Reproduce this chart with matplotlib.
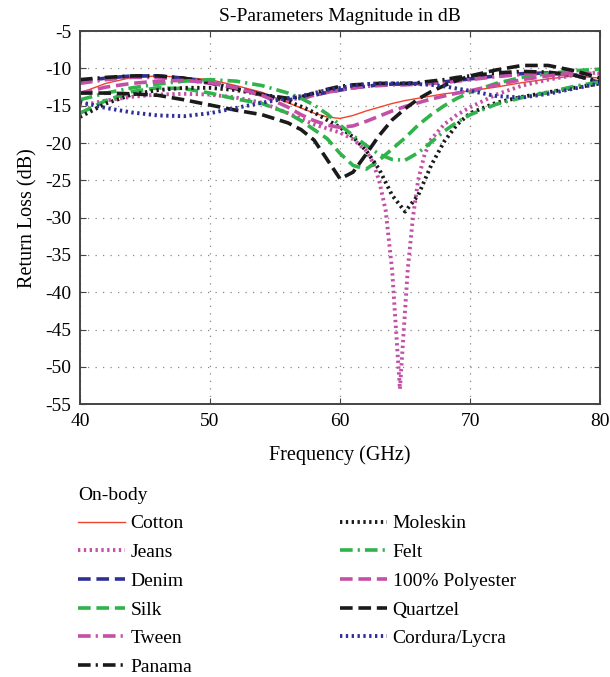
import matplotlib
matplotlib.use("Agg")
import matplotlib.pyplot as plt

plt.rcParams["font.family"] = ["Liberation Serif", "DejaVu Serif"]
plt.rcParams["axes.unicode_minus"] = False

# Data
freq = [40, 42, 44, 46, 48, 50, 52, 54, 56, 57, 58, 59, 60, 61, 62, 63, 64,
        65, 66, 67, 68, 69, 70, 72, 74, 76, 78, 80]
jeans_freq = [40, 42, 44, 46, 48, 50, 52, 54, 56, 58, 60, 61, 62, 62.5, 63,
              63.5, 64, 64.3, 64.6, 64.9, 65.2, 65.6, 66, 66.5, 67, 68, 69,
              70, 72, 74, 76, 78, 80]

cotton = [-13.3, -12.0, -11.2, -11.0, -11.2, -11.5, -12.3, -13.2, -14.6, -15.3,
          -16.0, -16.5, -16.7, -16.3, -15.7, -15.2, -14.7, -14.3, -14.0, -13.7,
          -13.4, -13.2, -13.0, -12.5, -11.9, -11.4, -11.0, -11.3]
jeans = [-15.0, -14.3, -13.8, -13.5, -13.4, -13.5, -13.9, -14.6, -16.0, -17.5,
         -18.6, -19.5, -21.0, -22.5, -25.0, -29.0, -37.0, -45.0, -53.0, -45.0,
         -37.0, -30.0, -25.0, -21.5, -19.5, -17.5, -16.2, -15.2, -13.5, -12.3,
         -11.5, -10.9, -10.5]
denim = [-11.7, -11.3, -11.0, -11.0, -11.3, -11.9, -12.6, -13.5, -14.2, -14.0,
         -13.6, -13.2, -12.9, -12.6, -12.4, -12.2, -12.1, -12.1, -12.0, -12.0,
         -11.8, -11.6, -11.4, -11.0, -10.7, -10.6, -10.9, -11.9]
silk = [-16.0, -14.3, -13.1, -12.6, -12.7, -13.3, -14.1, -14.7, -16.0, -17.0,
        -18.2, -19.4, -21.4, -23.0, -23.5, -22.3, -20.8, -19.3, -17.6, -16.2,
        -15.0, -14.0, -13.2, -12.0, -11.2, -10.7, -10.3, -10.1]
tween = [-12.0, -11.5, -11.2, -11.2, -11.5, -12.0, -12.7, -13.6, -14.2, -14.0,
         -13.6, -13.2, -12.9, -12.6, -12.4, -12.3, -12.2, -12.2, -12.1, -12.0,
         -11.9, -11.7, -11.5, -11.1, -10.8, -10.7, -10.9, -11.7]
panama = [-11.5, -11.2, -11.0, -11.0, -11.3, -11.9, -12.7, -13.5, -14.0, -13.8,
          -13.3, -12.8, -12.4, -12.2, -12.1, -12.0, -12.0, -12.0, -11.9, -11.7,
          -11.5, -11.2, -11.0, -10.6, -10.4, -10.5, -10.9, -11.8]
moleskin = [-16.5, -14.7, -13.5, -12.9, -12.6, -12.6, -12.9, -13.5, -14.4,
            -15.1, -15.9, -16.9, -17.9, -19.2, -21.0, -23.5, -27.0, -29.2,
            -27.0, -23.0, -19.8, -17.5, -16.0, -14.6, -13.8, -13.2, -12.6, -12.0]
felt = [-14.2, -13.3, -12.6, -12.1, -11.7, -11.5, -11.7, -12.3, -13.3, -14.0,
        -14.9, -16.1, -17.6, -19.0, -20.3, -21.5, -22.2, -22.3, -21.3, -19.9,
        -18.4, -17.2, -16.2, -14.8, -13.9, -13.2, -12.4, -11.8]
polyester = [-13.3, -12.5, -12.0, -11.7, -11.6, -11.9, -12.6, -13.6, -15.2,
             -16.2, -17.0, -17.6, -17.9, -17.7, -17.1, -16.4, -15.7, -15.1,
             -14.6, -14.1, -13.7, -13.3, -13.0, -12.2, -11.5, -11.0, -10.6, -10.7]
quartzel = [-13.3, -13.3, -13.4, -13.6, -14.2, -14.9, -15.6, -16.2, -17.3,
            -18.2, -19.6, -22.2, -24.8, -23.9, -21.5, -19.0, -16.9, -15.4,
            -14.1, -13.1, -12.3, -11.6, -11.0, -10.2, -9.6, -9.6, -10.3, -11.3]
cordura = [-14.5, -15.3, -15.9, -16.3, -16.4, -16.0, -15.3, -14.6, -14.0, -13.7,
           -13.3, -12.9, -12.6, -12.3, -12.1, -12.0, -12.0, -12.0, -12.1, -12.2,
           -12.4, -12.7, -13.0, -13.7, -13.9, -13.4, -12.7, -12.0]

red = "#f0442a"
magenta = "#c44fa6"
navy = "#2f2f98"
green = "#2fb34a"
black = "#1a1a1a"

dot = (0, (0.6, 0.9))
dash = (0, (3.5, 1.6))
dashdot = (0, (3.5, 1.4, 0.6, 1.4))

# Charting
fig = plt.figure(figsize=(6.1, 6.77), dpi=100)
ax = fig.add_axes([0.131, 0.403, 0.853, 0.551])

ax.plot(freq, cotton, color=red, lw=1.0, label="Cotton")
ax.plot(jeans_freq, jeans, color=magenta, lw=2.8, linestyle=dot, label="Jeans")
ax.plot(freq, denim, color=navy, lw=2.6, linestyle=dash, label="Denim")
ax.plot(freq, silk, color=green, lw=2.6, linestyle=dash, label="Silk")
ax.plot(freq, tween, color=magenta, lw=2.6, linestyle=dashdot, label="Tween")
ax.plot(freq, panama, color=black, lw=2.6, linestyle=dashdot, label="Panama")
ax.plot(freq, moleskin, color=black, lw=2.8, linestyle=dot, label="Moleskin")
ax.plot(freq, felt, color=green, lw=2.6, linestyle=dashdot, label="Felt")
ax.plot(freq, polyester, color=magenta, lw=2.6, linestyle=dash,
        label="100% Polyester")
ax.plot(freq, quartzel, color=black, lw=2.6, linestyle=dash, label="Quartzel")
ax.plot(freq, cordura, color=navy, lw=2.8, linestyle=dot, label="Cordura/Lycra")

# Arrangements
ax.set_xlim(40, 80)
ax.set_ylim(-55, -5)
ax.set_xticks([40, 50, 60, 70, 80])
ax.set_yticks(range(-55, 0, 5))
ax.tick_params(labelsize=14, direction="in", length=4, color="#444444",
               top=True, right=True, pad=6)
ax.grid(True, linestyle=(0, (1, 5)), color="#888888", lw=0.9)
for s in ax.spines.values():
    s.set_color("#444444")
    s.set_linewidth(1.4)

ax.set_title("S-Parameters Magnitude in dB", fontsize=14, pad=7)
ax.set_xlabel("Frequency (GHz)", fontsize=14.5, labelpad=11)
ax.set_ylabel("Return Loss (dB)", fontsize=14.5, labelpad=6)

fig.legend(loc="upper left", bbox_to_anchor=(0.128, 0.281), ncol=2,
           frameon=False, title="On-body", title_fontsize=14,
           alignment="left", fontsize=14, handlelength=2.4,
           handletextpad=0.3, columnspacing=7.6, labelspacing=0.57,
           borderpad=0, borderaxespad=0)

fig.savefig("out.png", dpi=100)
